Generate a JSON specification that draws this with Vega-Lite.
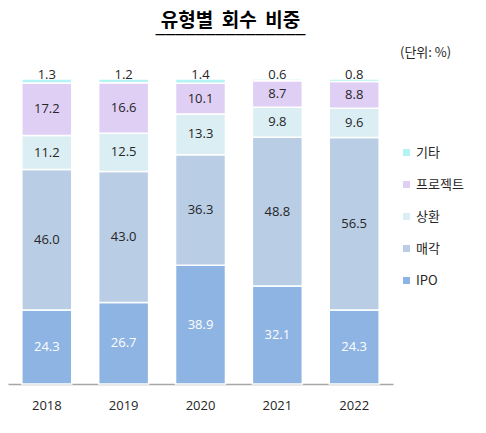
{
  "$schema": "https://vega.github.io/schema/vega-lite/v6.json",
  "width": 385,
  "height": 305,
  "padding": {"left": 8, "top": 12, "right": 0, "bottom": 0},
  "background": "white",
  "title": {
    "text": "유형별 \u00a0회수 \u00a0비중",
    "subtitle": "━━━━━━━━━━━━━━━",
    "anchor": "middle",
    "dx": 30,
    "font": "Noto Sans CJK KR",
    "fontSize": 19,
    "fontWeight": "bold",
    "color": "#000000",
    "subtitleFont": "Noto Sans CJK KR",
    "subtitleFontSize": 10,
    "subtitleColor": "#000000",
    "subtitlePadding": 0,
    "offset": 6
  },
  "data": {
    "values": [
      {"year": "2018", "type": "IPO", "value": 24.3},
      {"year": "2018", "type": "매각", "value": 46.0},
      {"year": "2018", "type": "상환", "value": 11.2},
      {"year": "2018", "type": "프로젝트", "value": 17.2},
      {"year": "2018", "type": "기타", "value": 1.3},
      {"year": "2019", "type": "IPO", "value": 26.7},
      {"year": "2019", "type": "매각", "value": 43.0},
      {"year": "2019", "type": "상환", "value": 12.5},
      {"year": "2019", "type": "프로젝트", "value": 16.6},
      {"year": "2019", "type": "기타", "value": 1.2},
      {"year": "2020", "type": "IPO", "value": 38.9},
      {"year": "2020", "type": "매각", "value": 36.3},
      {"year": "2020", "type": "상환", "value": 13.3},
      {"year": "2020", "type": "프로젝트", "value": 10.1},
      {"year": "2020", "type": "기타", "value": 1.4},
      {"year": "2021", "type": "IPO", "value": 32.1},
      {"year": "2021", "type": "매각", "value": 48.8},
      {"year": "2021", "type": "상환", "value": 9.8},
      {"year": "2021", "type": "프로젝트", "value": 8.7},
      {"year": "2021", "type": "기타", "value": 0.6},
      {"year": "2022", "type": "IPO", "value": 24.3},
      {"year": "2022", "type": "매각", "value": 56.5},
      {"year": "2022", "type": "상환", "value": 9.6},
      {"year": "2022", "type": "프로젝트", "value": 8.8},
      {"year": "2022", "type": "기타", "value": 0.8}
    ]
  },
  "transform": [
    {"calculate": "indexof(['IPO','매각','상환','프로젝트','기타'], datum.type)", "as": "rank"},
    {"stack": "value", "groupby": ["year"], "sort": [{"field": "rank", "order": "ascending"}], "as": ["v0", "v1"]},
    {"calculate": "(datum.v0 + datum.v1) / 2", "as": "mid"}
  ],
  "encoding": {
    "x": {
      "field": "year",
      "type": "ordinal",
      "title": null,
      "scale": {"paddingInner": 0.35, "paddingOuter": 0.18},
      "axis": {
        "labelAngle": 0,
        "labelFont": "Open Sans",
        "labelFontSize": 13,
        "labelColor": "#262626",
        "labelPadding": 15,
        "ticks": false,
        "domainColor": "#A6A6A6",
        "domainWidth": 1.5
      }
    }
  },
  "layer": [
    {
      "mark": {"type": "bar", "stroke": "white", "strokeWidth": 1.5},
      "encoding": {
        "y": {"field": "v0", "type": "quantitative", "scale": {"domain": [0, 100]}, "axis": null},
        "y2": {"field": "v1"},
        "color": {
          "field": "type",
          "type": "nominal",
          "scale": {
            "domain": ["기타", "프로젝트", "상환", "매각", "IPO"],
            "range": ["#B3F3F6", "#E0CFF5", "#DBEEF3", "#B9CDE5", "#8EB4E3"]
          },
          "legend": {
            "orient": "none",
            "legendX": 392,
            "legendY": -32,
            "title": "(단위: %)",
            "titleFont": "Noto Sans CJK KR",
            "titleFontSize": 13,
            "titleFontWeight": "normal",
            "titleColor": "#262626",
            "titlePadding": 86,
            "symbolType": "square",
            "symbolSize": 49,
            "symbolStrokeWidth": 0,
            "labelFont": "Noto Sans CJK KR",
            "labelFontSize": 13,
            "labelColor": "#262626",
            "labelOffset": 3,
            "rowPadding": 18
          }
        }
      }
    },
    {
      "transform": [{"filter": "datum.type != '기타'"}],
      "mark": {"type": "text", "font": "Open Sans", "fontSize": 13},
      "encoding": {
        "y": {"field": "mid", "type": "quantitative"},
        "text": {"field": "value", "type": "quantitative", "format": ".1f"},
        "color": {"condition": {"test": "datum.type == 'IPO'", "value": "white"}, "value": "#262626"}
      }
    },
    {
      "transform": [{"filter": "datum.type == '기타'"}],
      "mark": {"type": "text", "font": "Open Sans", "fontSize": 13, "baseline": "bottom", "dy": 3, "color": "#262626"},
      "encoding": {
        "y": {"field": "v1", "type": "quantitative"},
        "text": {"field": "value", "type": "quantitative", "format": ".1f"}
      }
    }
  ],
  "config": {
    "view": {"stroke": null}
  }
}
